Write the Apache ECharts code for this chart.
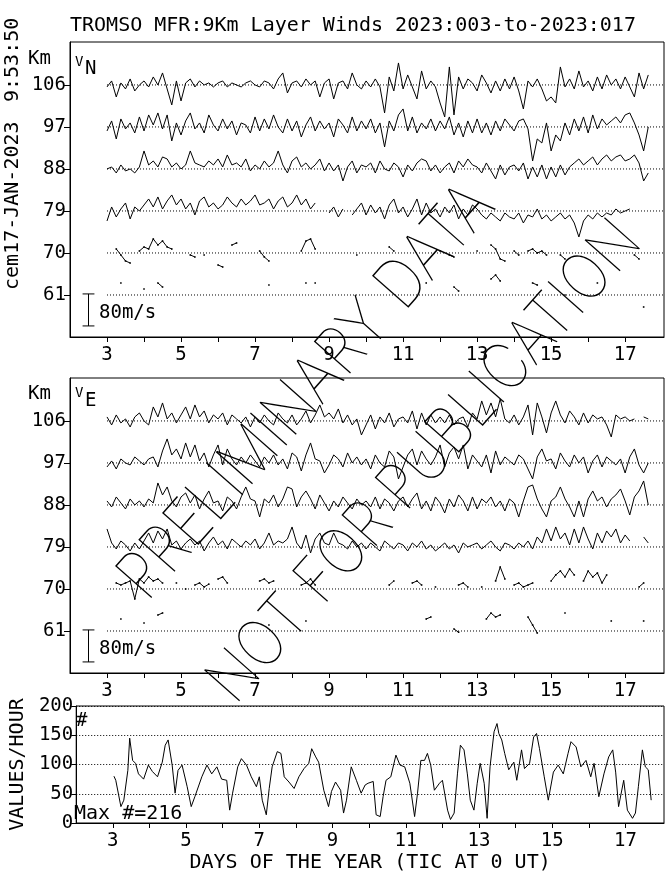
<!DOCTYPE html>
<html><head><meta charset="utf-8">
<script src="https://cdn.jsdelivr.net/npm/echarts@6/dist/echarts.min.js"></script>
<style>html,body{margin:0;padding:0;background:#fff}#c{width:672px;height:877px}</style>
</head><body><div id="c"></div>
<script>
const _ = null;
const FONT = '"DejaVu Sans Mono", monospace';
// time axis of wind samples: day of year, 3-hourly
const dayStart = 3, dayStep = 0.125;
const altitudes = [106, 97, 88, 79, 70, 61];
const xTickDays = [3,4,5,6,7,8,9,10,11,12,13,14,15,16,17];
const xLabelDays = [3,5,7,9,11,13,15,17];
const countTicks = [0,50,100,150,200];
const scaleBarSpeed = 80; // m/s

// ---- Northward wind (m/s) ----
const vn106 = [-5,10,-30,5,-10,15,-15,0, 10,-5,20,0,30,-10,-50,10, -40,5,15,-5,10,0,5,-5, 5,10,-5,5,0,-5,5,10,
 0,-5,10,5,-10,15,30,-20, 5,10,-5,15,0,10,-30,5, 15,-35,5,10,-10,30,0,-10, 10,-5,15,-5,-70,20,-15,55,
 -10,25,-5,-35,35,-10,10,-5, -45,-80,45,-75,20,-10,15,5, -15,25,5,-20,10,-15,15,-10, 20,-15,-60,10,-5,15,-10,-40,
 -30,-45,45,-5,15,-10,35,-5, 10,-15,20,-10,25,0,15,-10, 20,-5,-30,30,-10,25];
const vn97 = [-10,15,-30,20,-5,10,-15,25, -10,30,5,35,-5,30,-35,10, -20,15,35,-5,10,-15,30,5, -10,20,-5,15,-20,10,5,-15,
 25,-10,20,-5,30,0,-15,20, -10,15,-25,5,25,-10,15,-5, 10,-25,20,5,-15,25,-10,15, -5,20,-15,10,-50,15,-10,30,
 45,-10,25,-15,10,-5,20,-10, 15,-5,25,-20,10,-25,15,-15, 20,-15,10,-20,15,-10,20,5, -10,15,20,-5,-85,-30,-40,10,
 -60,-20,-35,10,-20,20,-10,25, -15,30,-5,20,5,15,25,10, 30,35,10,-20,-60,0];
const vn88 = [0,5,-10,10,-5,0,-10,5, 45,10,20,5,30,25,5,15, 0,10,45,15,10,5,20,10, 25,5,35,10,15,5,25,-5,
 10,0,20,5,15,45,10,-10, 20,30,5,15,0,10,25,-5, 15,-5,10,-30,5,20,-10,10, 5,15,-10,20,0,-5,15,5,
 -20,10,-5,15,25,20,-5,10, -10,5,15,-10,20,5,25,10, 5,-10,15,-5,-25,10,-15,5, 10,-5,15,-25,5,-20,10,-25,
 5,-20,10,-15,5,15,25,10, 20,30,10,25,35,20,30,35, 20,25,35,15,-30,-10];
const vn79 = [-25,10,-15,5,20,-20,10,0, 15,30,10,35,5,25,40,15, 30,5,20,-10,25,35,10,20, 5,15,35,20,10,30,15,25,
 40,15,20,30,5,25,35,10, 20,40,15,30,5,20,_,_, -5,10,-15,5,_,-10,5,20, -10,15,-5,10,-20,15,30,-5,
 10,-15,5,30,-10,20,-5,5, -15,10,-5,15,-20,5,-10,15, 5,-10,-20,-5,-15,-25,-5,-15, -20,-5,-30,-10,-15,5,-20,-10,
 -25,-15,-5,-20,-10,-30,-65,-25, -10,-20,-5,-15,-5,-10,5,-5, 0,5,_,5,_,_];
const vn70 = [_,_,10,-5,-20,-25,_,5, 15,10,35,20,30,15,10,_, _,_,-5,-10,_,-5,_,_, -30,-35,_,20,25,_,_,_,
 _,5,-10,-20,_,_,_,_, _,_,5,30,35,10,_,_, _,_,_,_,_,_,-5,_, _,_,_,_,_,15,5,_,
 _,_,_,_,_,_,_,_, 5,_,-5,-10,_,_,_,_, 5,_,_,20,10,-15,-20,_, 5,-5,_,5,10,0,5,-5,
 _,_,-5,-15,_,_,_,_, _,_,_,_,_,_,_,_, _,_,-5,-15,_,_];
const vn61 = [_,_,_,30,_,_,_,_, 15,_,_,30,20,_,_,_, _,_,_,_,_,_,_,_, _,_,_,_,_,_,_,_,
 _,_,_,25,_,_,_,_, _,_,_,30,_,30,_,_, _,_,_,_,_,_,_,_, _,_,_,_,_,_,_,_,
 _,_,_,_,_,30,_,_, _,_,_,20,10,_,_,_, _,_,_,40,50,35,_,_, _,_,_,_,30,25,_,_,
 _,_,_,0,_,_,_,_, _,_,30,_,_,_,_,_, _,_,_,_,-30,_];

// ---- Eastward wind (m/s) ----
const ve106 = [10,-10,15,-5,5,-15,10,20, 0,-10,35,10,45,5,20,-5, 15,35,5,40,10,25,-5,15, 5,20,-10,15,5,-5,10,-15,
 10,-5,15,0,-10,20,5,-5, 15,-10,5,25,-5,15,40,10, 20,5,30,-5,15,-10,5,-35, -10,15,-20,10,-5,20,-15,5,
 10,-5,25,-20,20,-10,15,-5, 10,-5,15,-10,5,10,-15,20, 5,50,15,45,10,55,5,-5, 15,-10,10,40,-35,45,10,-30,
 20,50,15,-5,25,10,-10,20, -5,15,5,10,-10,-40,15,5, 10,0,5,_,10,5];
const ve97 = [-10,5,-15,10,0,-5,15,5, -5,10,15,-10,30,60,20,35, 10,50,15,45,5,25,-10,20, 45,-5,35,10,-5,15,0,20,
 5,-10,15,0,20,-5,10,-15, 25,15,-20,20,50,10,5,-25, -5,20,10,-10,25,0,15,-5, 10,-15,20,0,-10,30,15,-40,
 -10,20,35,-5,30,10,-5,15, 45,-10,25,40,10,45,-15,20, 5,-10,20,-25,30,-5,15,5, -5,20,10,-15,-40,15,35,5,
 10,-15,25,5,-10,20,0,15, -25,5,20,-10,15,5,-5,10, -25,15,35,-5,-25,0];
const ve88 = [10,-5,20,5,-10,15,0,10, -5,15,5,55,25,45,10,-5, 20,30,5,25,-10,15,35,5, 10,-15,20,10,-10,20,45,15,
 10,-30,15,5,25,-5,15,45, 40,-5,20,35,15,-10,25,5, -15,10,-5,20,5,-10,15,0, 10,-5,20,-10,15,5,-15,10,
 20,-5,15,30,-10,10,-15,20, 5,-20,15,-5,25,10,-15,20, -10,15,5,20,-5,10,-15,15, 5,-30,10,45,50,15,-10,-30,
 10,20,45,15,-5,-30,10,-30, 15,35,10,20,-5,15,25,40, 10,-25,20,35,60,0];
const ve79 = [45,10,-5,15,5,-10,10,-5, 15,35,10,40,20,45,5,15, -5,10,20,5,15,-10,10,25, 5,15,-5,20,10,0,15,5,
 20,-5,10,35,5,15,10,20, 50,10,-5,30,-15,20,35,10, 5,35,10,5,-5,15,0,10, -5,10,0,-10,15,5,-5,10,
 5,-10,10,0,15,-5,5,-10, 0,10,-5,5,-15,10,0,5, 10,-5,5,15,0,-10,10,5, -5,10,0,15,-5,25,10,45,
 15,50,20,35,5,45,10,50, 20,-5,35,10,40,25,45,10, 30,15,_,_,25,10];
const ve70 = [_,_,15,10,15,20,-25,25, 15,30,20,25,15,_,_,15, _,0,_,10,15,5,12,_, 25,30,15,_,_,_,_,_,
 _,20,25,15,20,_,_,_, _,_,10,15,25,10,_,_, _,_,_,_,_,_,_,_, _,_,_,_,_,10,20,_,
 _,_,15,20,10,_,_,5, _,_,_,_,10,15,5,_, _,5,_,_,20,55,25,_, 10,15,5,10,15,_,_,_,
 20,35,45,30,50,35,_,20, 45,30,40,15,35,_,_,_, _,_,_,5,15,_];
const ve61 = [_,_,_,30,_,_,_,_, 20,_,_,40,45,_,_,_, _,_,_,_,_,_,_,_, _,_,_,_,_,_,_,_,
 _,_,_,15,_,_,_,_, _,_,_,25,_,_,_,_, _,_,_,_,_,_,_,_, _,_,_,_,_,_,_,_,
 _,_,_,_,_,30,35,_, _,_,_,5,-3,_,_,_, _,_,30,45,35,40,_,_, _,_,_,35,15,-5,_,_,
 _,_,_,45,_,_,_,_, _,_,_,_,_,25,_,_, _,_,_,_,25,_];

// ---- Number of values per hour ----
const countDays = [3.03,3.08,3.22,3.30,3.41,3.46,3.54,3.62,3.70,3.84,3.97,4.08,4.22,4.35,4.43,4.51,4.62,4.70,4.78,4.89,
 5.03,5.14,5.24,5.43,5.57,5.70,5.84,5.97,6.11,6.19,6.27,6.41,6.51,6.65,6.78,6.92,7.00,7.08,7.19,7.27,
 7.35,7.49,7.59,7.68,7.81,7.95,8.08,8.22,8.35,8.43,8.54,8.62,8.76,8.89,8.97,9.08,9.22,9.30,9.38,9.51,
 9.65,9.78,9.89,9.97,10.11,10.19,10.30,10.38,10.46,10.59,10.73,10.84,10.97,11.11,11.24,11.32,11.41,11.51,11.59,11.68,
 11.78,11.92,12.00,12.14,12.22,12.32,12.41,12.49,12.59,12.68,12.76,12.86,12.95,13.03,13.14,13.22,13.30,13.41,13.49,13.54,
 13.62,13.70,13.81,13.95,14.03,14.16,14.24,14.38,14.49,14.57,14.65,14.78,14.89,15.03,15.16,15.30,15.43,15.51,15.65,15.78,
 15.92,16.05,16.14,16.27,16.41,16.54,16.65,16.73,16.81,16.95,17.05,17.19,17.27,17.35,17.46,17.54,17.62,17.70];
const counts = [80,73,28,39,90,145,107,102,84,75,99,88,79,104,133,142,99,51,90,99,
 62,28,45,79,99,84,96,75,73,22,51,96,110,99,79,62,79,39,14,59,
 96,122,119,79,70,59,79,93,102,127,113,104,56,28,54,70,56,17,39,96,
 73,51,65,68,71,14,11,45,73,79,116,99,96,68,11,51,107,107,119,99,
 56,68,73,22,6,17,84,133,125,84,39,22,68,102,68,8,96,156,170,153,
 142,119,91,104,73,125,93,102,147,153,127,79,39,87,99,84,119,139,130,96,
 107,79,102,45,84,113,125,87,28,73,22,8,17,62,125,96,91,39];

const K = 9/42*32/80;   // km of plot per m/s (80 m/s bar = 32 px)
const BLACK = '#000';
const vnTraces = [vn106, vn97, vn88, vn79, vn70, vn61];
const veTraces = [ve106, ve97, ve88, ve79, ve70, ve61];

function traceSeries(vals, alt, g, sparse) {
  return {
    type: 'line', xAxisIndex: g, yAxisIndex: g, silent: true, animation: false,
    data: vals.map((v, i) => [dayStart + i * dayStep, v === null ? '-' : alt + v * K]),
    showSymbol: sparse, symbol: 'rect', symbolSize: 1.6, itemStyle: { color: BLACK },
    lineStyle: { color: BLACK, width: 1 }, connectNulls: false, z: 3
  };
}
function baseSeries(alt, g) {
  return { type: 'line', xAxisIndex: g, yAxisIndex: g, silent: true, animation: false, showSymbol: false,
    data: [[3, alt], [18.05, alt]], lineStyle: { color: BLACK, width: 1, type: [1, 2] }, z: 2 };
}
function barSeries(g) {
  const c = 57.8, lo = c - scaleBarSpeed / 2 * K, hi = c + scaleBarSpeed / 2 * K;
  return { type: 'line', xAxisIndex: g, yAxisIndex: g, silent: true, animation: false, showSymbol: false,
    data: [[2.5, lo], [2.5, hi], [2.5, '-'], [2.34, hi], [2.66, hi], [2.66, '-'], [2.34, lo], [2.66, lo]],
    lineStyle: { color: BLACK, width: 1 }, connectNulls: false };
}
const series = [];
altitudes.forEach((a, k) => {
  series.push(baseSeries(a, 0), baseSeries(a, 1));
  series.push(traceSeries(vnTraces[k], a, 0, a <= 70));
  series.push(traceSeries(veTraces[k], a, 1, a <= 70));
});
series.push(barSeries(0), barSeries(1));
series.push({ type: 'line', xAxisIndex: 2, yAxisIndex: 2, silent: true, animation: false, showSymbol: false,
  data: countDays.map((d, i) => [d, counts[i]]), lineStyle: { color: BLACK, width: 1 } });

const lbl = { fontFamily: FONT, fontSize: 19, color: BLACK };
function xAxis(g, name) {
  return { type: 'value', gridIndex: g, min: 2, max: 18.05,
    axisLine: { show: true, onZero: false, lineStyle: { color: BLACK, width: 1 } },
    axisTick: { show: true, customValues: xTickDays, length: 5, lineStyle: { color: BLACK } },
    axisLabel: Object.assign({ customValues: xLabelDays, margin: 9 }, lbl),
    splitLine: { show: false },
    name: name || '', nameLocation: 'middle', nameGap: 30,
    nameTextStyle: { fontFamily: FONT, fontSize: 20, color: BLACK } };
}
function yAxisAlt(g) {
  return { type: 'value', gridIndex: g, min: 52, max: 115.2,
    axisLine: { show: true, lineStyle: { color: BLACK } },
    axisTick: { show: true, customValues: altitudes, length: 6, lineStyle: { color: BLACK } },
    axisLabel: Object.assign({ customValues: altitudes, margin: 4 }, lbl),
    splitLine: { show: false } };
}
const option = {
  backgroundColor: '#fff', animation: false,
  grid: [
    { left: 70, top: 42, width: 594, height: 295, show: true, borderColor: BLACK, borderWidth: 1, backgroundColor: 'transparent' },
    { left: 70, top: 378, width: 594, height: 295, show: true, borderColor: BLACK, borderWidth: 1, backgroundColor: 'transparent' },
    { left: 70, top: 706, width: 594, height: 117, show: true, borderColor: BLACK, borderWidth: 1, backgroundColor: 'transparent' }
  ],
  xAxis: [xAxis(0), xAxis(1), xAxis(2, 'DAYS OF THE YEAR (TIC AT 0 UT)')],
  yAxis: [yAxisAlt(0), yAxisAlt(1), {
    type: 'value', gridIndex: 2, min: 0, max: 200, interval: 50,
    axisLine: { show: true, lineStyle: { color: BLACK } },
    axisTick: { show: true, length: 5, lineStyle: { color: BLACK } },
    axisLabel: Object.assign({ margin: 3 }, lbl),
    splitLine: { show: true, lineStyle: { color: BLACK, type: [1, 2], width: 1 } },
    name: 'VALUES/HOUR', nameLocation: 'middle', nameRotate: 90, nameGap: 46,
    nameTextStyle: { fontFamily: FONT, fontSize: 20, color: BLACK }
  }],
  series: series,
  graphic: [
    { type: 'text', x: 70, y: 26, style: { text: 'TROMSO MFR:9Km Layer Winds 2023:003-to-2023:017', font: '20px ' + FONT, fill: BLACK, verticalAlign: 'middle' } },
    { type: 'text', x: 13, y: 290, rotation: Math.PI / 2, style: { text: 'cem17-JAN-2023', font: '20px ' + FONT, fill: BLACK, verticalAlign: 'middle' } },
    { type: 'text', x: 13, y: 102, rotation: Math.PI / 2, style: { text: '9:53:50', font: '20px ' + FONT, fill: BLACK, verticalAlign: 'middle' } },
    { type: 'text', x: 28, y: 59, style: { text: 'Km', font: '19px ' + FONT, fill: BLACK, verticalAlign: 'middle' } },
    { type: 'text', x: 28, y: 394, style: { text: 'Km', font: '19px ' + FONT, fill: BLACK, verticalAlign: 'middle' } },
    { type: 'text', x: 75, y: 55, style: { text: 'V', font: '14px ' + FONT, fill: BLACK } },
    { type: 'text', x: 85, y: 60, style: { text: 'N', font: '19px ' + FONT, fill: BLACK } },
    { type: 'text', x: 75, y: 386, style: { text: 'V', font: '14px ' + FONT, fill: BLACK } },
    { type: 'text', x: 85, y: 392, style: { text: 'E', font: '19px ' + FONT, fill: BLACK } },
    { type: 'text', x: 99, y: 313, style: { text: '80m/s', font: '19px ' + FONT, fill: BLACK, verticalAlign: 'middle' } },
    { type: 'text', x: 99, y: 649, style: { text: '80m/s', font: '19px ' + FONT, fill: BLACK, verticalAlign: 'middle' } },
    { type: 'text', x: 76, y: 721, style: { text: '#', font: '19px ' + FONT, fill: BLACK, verticalAlign: 'middle' } },
    { type: 'text', x: 74, y: 814, style: { text: 'Max #=216', font: '20px ' + FONT, fill: BLACK, verticalAlign: 'middle' } },
    { type: 'text', x: 307, y: 392, rotation: 48.5 * Math.PI / 180, scaleY: 1.15, z: 100,
      style: { text: 'PRELIMINARY DATA', font: '100 58px Inter, Lato, sans-serif', fill: BLACK, align: 'center', verticalAlign: 'middle' } },
    { type: 'text', x: 425, y: 462, rotation: 48.5 * Math.PI / 180, scaleY: 1.15, z: 100,
      style: { text: 'NOT FOR PUBLICATION', font: '100 56px Inter, Lato, sans-serif', fill: BLACK, align: 'center', verticalAlign: 'middle' } }
  ]
};
const chart = echarts.init(document.getElementById('c'), null, { renderer: 'canvas' });
chart.setOption(option);
</script>
</body></html>
